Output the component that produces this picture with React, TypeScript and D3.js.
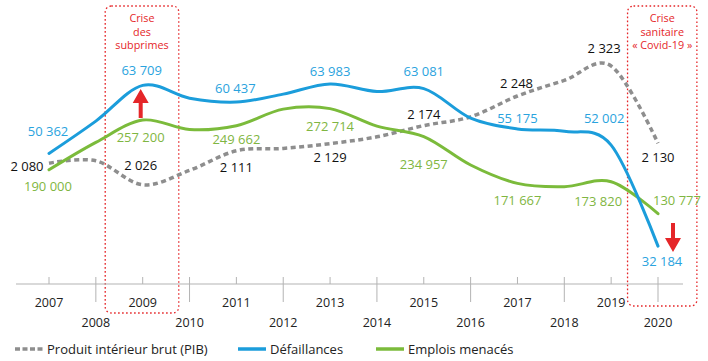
import React from "react";
import * as d3 from "d3";

const years = [2007, 2008, 2009, 2010, 2011, 2012, 2013, 2014, 2015, 2016, 2017, 2018, 2019, 2020];
const defaillances = [50362, 56700, 63709, 61200, 60437, 62000, 63983, 62500, 63081, 57300, 55175, 54700, 52002, 32184];
const emplois = [190000, 227000, 257200, 244500, 249662, 272000, 272714, 249000, 234957, 196500, 171667, 167200, 173820, 130777];
const pib = [2080, 2086, 2026, 2062, 2111, 2117, 2129, 2146, 2174, 2196, 2248, 2287, 2323, 2130];

const labelYears = [2007, 2009, 2011, 2013, 2015, 2017, 2019, 2020];
// label offsets (dx, dy) relative to the data point
const blueOffsets = [[-1, -22.5], [-1, -15.4], [-1, -14], [0, -13], [0, -17.6], [0, -11], [-7, -27], [4, 15]];
const greenOffsets = [[-1, 17], [-2, 17], [0, 14], [0, 18], [0, 28], [0, 17], [-13, 20], [19, -13]];
const grayOffsets = [[-22, 3], [-2, -19], [0, 17], [0, 14], [0, -11], [-1, -13], [-7, -18], [0, 14]];

const crises = [
  { from: 2008.2, to: 2009.77, bottom: 313, lines: ["Crise", "des", "subprimes"] },
  { from: 2019.35, to: 2020.83, bottom: 306, lines: ["Crise", "sanitaire", "« Covid-19 »"] },
];

const legendItems = [
  { label: "Produit intérieur brut (PIB)", key: "pib" },
  { label: "Défaillances", key: "def" },
  { label: "Emplois menacés", key: "emp" },
];

const BLUE = "#1b9ddb";
const BLUE_TXT = "#2aa3de";
const GREEN = "#7bbb3b";
const GREEN_TXT = "#7fb642";
const GRAY = "#8e8e8e";
const RED = "#e52629";
const FONT = "'Open Sans', sans-serif";

export default function App() {
  const W = 708, H = 361;
  const x = d3.scaleLinear().domain([2007, 2020]).range([49, 658]);
  const yBlue = d3.scaleLinear().domain([30000, 65000]).range([257.28, 78.81]);
  const yGreen = d3.scaleLinear().domain([130000, 280000]).range([214.25, 103.21]);
  const yGray = d3.scaleLinear().domain([2000, 2350]).range([195.2, 55.2]);

  const curve = d3.curveCardinal.tension(0);
  const mk = (vals: number[], ys: d3.ScaleLinear<number, number>) =>
    d3.line<number>().x((_, i) => x(years[i])).y((v) => ys(v)).curve(curve)(vals) || "";

  const axisY = 284;
  const fmt = (v: number) => d3.format(",")(v).replace(/,/g, " ");

  const labels = (vals: number[], ys: any, offs: number[][], color: string) =>
    labelYears.map((yr, k) => {
      const i = years.indexOf(yr);
      return (
        <text key={yr} x={x(yr) + offs[k][0]} y={ys(vals[i]) + offs[k][1] + 4.6}
          textAnchor="middle" fontSize={13} fill={color} fontFamily={FONT}>
          {fmt(vals[i])}
        </text>
      );
    });

  const arrowUp = (cx: number, tip: number, base: number, bottom: number) =>
    `M${cx},${tip} L${cx + 8},${base} L${cx + 2},${base} L${cx + 2},${bottom} L${cx - 2},${bottom} L${cx - 2},${base} L${cx - 8},${base} Z`;

  const legendX = [15, 238, 376];

  return (
    <div style={{ position: "absolute", left: 0, top: 0 }}>
      <svg width={W} height={H} style={{ display: "block", background: "#fff" }}>
        {/* crisis boxes */}
        {crises.map((c, k) => {
          const x0 = x(c.from), x1 = x(c.to);
          return (
            <g key={k}>
              <rect x={x0} y={6} width={x1 - x0} height={c.bottom - 6} rx={6} ry={6}
                fill="none" stroke={RED} strokeWidth={1.3} strokeDasharray="1.6 2.4" />
              {c.lines.map((t, j) => (
                <text key={j} x={(x0 + x1) / 2} y={22 + j * 13.6} textAnchor="middle"
                  fontSize={10.8} fill={RED} fontFamily={FONT}>{t}</text>
              ))}
            </g>
          );
        })}

        {/* axis */}
        <line x1={16} x2={683} y1={axisY} y2={axisY} stroke="#b3b3b3" strokeWidth={1} />
        {years.map((yr) => (
          <line key={yr} x1={x(yr)} x2={x(yr)} y1={277} y2={yr % 2 === 0 ? 302 : axisY}
            stroke="#b3b3b3" strokeWidth={1} />
        ))}
        {years.map((yr) => (
          <text key={"t" + yr} x={x(yr)} y={yr % 2 === 1 ? 306.5 : 326.5} textAnchor="middle"
            fontSize={12.5} fill="#222" fontFamily={FONT}>{yr}</text>
        ))}

        {/* series */}
        <path d={mk(pib, yGray)} fill="none" stroke={GRAY} strokeWidth={3.5} strokeDasharray="5 3.5" />
        <path d={mk(emplois, yGreen)} fill="none" stroke={GREEN} strokeWidth={3} strokeLinecap="round" />
        <path d={mk(defaillances, yBlue)} fill="none" stroke={BLUE} strokeWidth={3} strokeLinecap="round" />

        {/* arrows */}
        <path d={arrowUp(x(2009) - 2, 89, 103, 118)} fill={RED} />
        <path d={arrowUp(x(2020) + 15, 252, 238, 223)} fill={RED} />

        {/* labels */}
        {labels(defaillances, yBlue, blueOffsets, BLUE_TXT)}
        {labels(emplois, yGreen, greenOffsets, GREEN_TXT)}
        {labels(pib, yGray, grayOffsets, "#111")}

        {/* legend */}
        {legendItems.map((it, k) => (
          <g key={it.key}>
            <line x1={legendX[k]} x2={legendX[k] + 28} y1={349} y2={349}
              stroke={it.key === "pib" ? GRAY : it.key === "def" ? BLUE : GREEN}
              strokeWidth={3.5}
              strokeDasharray={it.key === "pib" ? "5 2.5" : undefined} />
            <text x={legendX[k] + 32} y={353.5} fontSize={13} fill="#222" fontFamily={FONT}>{it.label}</text>
          </g>
        ))}
      </svg>
    </div>
  );
}
